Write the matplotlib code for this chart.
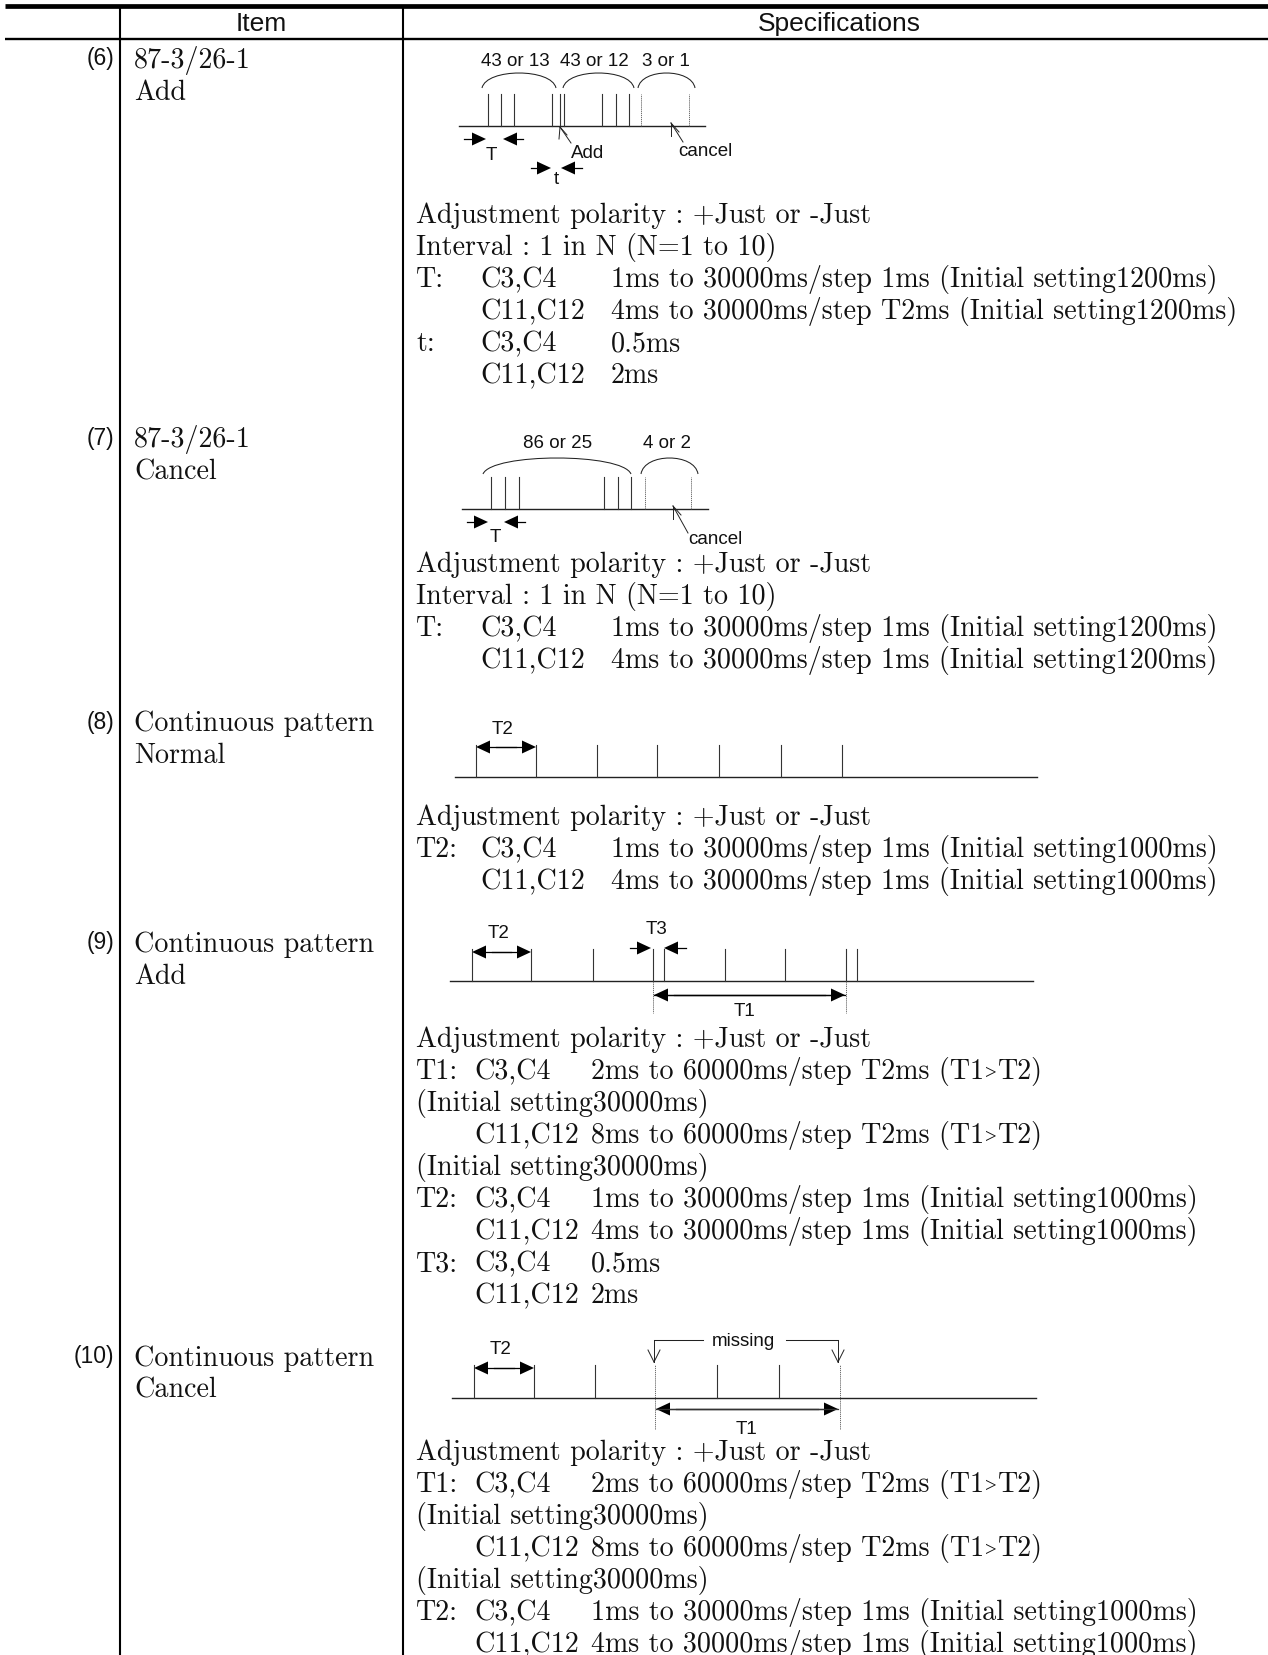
import matplotlib.pyplot as plt
from matplotlib.patches import PathPatch, Polygon
from matplotlib.path import Path

# table text
header_items = ['Item', 'Specifications']
row_numbers = ['(6)', '(7)', '(8)', '(9)', '(10)']
row_names = [['87-3/26-1', 'Add'],
             ['87-3/26-1', 'Cancel'],
             ['Continuous pattern', 'Normal'],
             ['Continuous pattern', 'Add'],
             ['Continuous pattern', 'Cancel']]
row_baselines = [68, 447, 731, 952, 1366]

ADJ = 'Adjustment polarity : +Just or -Just'
INI = '(Initial setting30000ms)'
spec6 = [[ADJ],
         ['Interval : 1 in N (N=1 to 10)'],
         ['T:', 'C3,C4', '1ms to 30000ms/step 1ms (Initial setting1200ms)'],
         ['', 'C11,C12', '4ms to 30000ms/step T2ms (Initial setting1200ms)'],
         ['t:', 'C3,C4', '0.5ms'],
         ['', 'C11,C12', '2ms']]
spec7 = [[ADJ],
         ['Interval : 1 in N (N=1 to 10)'],
         ['T:', 'C3,C4', '1ms to 30000ms/step 1ms (Initial setting1200ms)'],
         ['', 'C11,C12', '4ms to 30000ms/step 1ms (Initial setting1200ms)']]
spec8 = [[ADJ],
         ['T2:', 'C3,C4', '1ms to 30000ms/step 1ms (Initial setting1000ms)'],
         ['', 'C11,C12', '4ms to 30000ms/step 1ms (Initial setting1000ms)']]
spec9 = [[ADJ],
         ['T1:', 'C3,C4', '2ms to 60000ms/step T2ms (T1>T2)'],
         [INI],
         ['', 'C11,C12', '8ms to 60000ms/step T2ms (T1>T2)'],
         [INI],
         ['T2:', 'C3,C4', '1ms to 30000ms/step 1ms (Initial setting1000ms)'],
         ['', 'C11,C12', '4ms to 30000ms/step 1ms (Initial setting1000ms)'],
         ['T3:', 'C3,C4', '0.5ms'],
         ['', 'C11,C12', '2ms']]
spec10 = spec9[:7]
spec_blocks = [spec6, spec7, spec8, spec9, spec10]
spec_starts = [223, 572, 825, 1047, 1460]
spec_columns = [[416, 480, 611], [416, 480, 611], [416, 480, 611],
                [416, 474, 591], [416, 474, 591]]

# pulse positions of each timing diagram
pulses6 = [488, 501, 514, 552, 560, 564, 602, 616, 629]
dotted6 = [641, 689]
pulses7 = [491, 505, 519, 604, 618, 631]
dotted7 = [645, 691]
pulses8 = [476, 536, 597, 657, 719, 781, 842]
pulses9 = [472, 531, 593, 653, 664, 725, 785, 846, 857]
pulses10 = [474, 534, 595, 717, 779]
dotted10 = [655, 840]

arcs6 = [(482, 556), (563, 634), (638, 695)]
arc_labels6 = ['43 or 13', '43 or 12', '3 or 1']
arcs7 = [(483, 631), (641, 698)]
arc_labels7 = ['86 or 25', '4 or 2']

SERIF = 'cmr10'
SANS = 'Liberation Sans'
SERIF_SIZE = 20.2
LABEL_SIZE = 13.5
LINE_PITCH = 32.0
INK = '#111111'

fig = plt.figure(figsize=(12.68, 16.55), dpi=100)
ax = fig.add_axes([0, 0, 1, 1])
ax.set_xlim(0, 1268)
ax.set_ylim(1655, 0)
ax.axis('off')
renderer = fig.canvas.get_renderer()


def sans(x, y, s, size=LABEL_SIZE, ha='center'):
    ax.text(x, y, s, family=SANS, fontsize=size, ha=ha, va='center', color=INK)


def serif(x, y, s):
    # cmr10 has no ">" glyph, so that sign comes from another font
    if '>' not in s:
        ax.text(x, y, s, family=SERIF, fontsize=SERIF_SIZE, va='baseline', color=INK)
        return
    left, right = s.split('>')
    t = ax.text(x, y, left, family=SERIF, fontsize=SERIF_SIZE, va='baseline', color=INK)
    x = t.get_window_extent(renderer).x1
    t = ax.text(x + 1, y, '>', family='Liberation Serif', fontsize=15, va='baseline', color=INK)
    x = t.get_window_extent(renderer).x1
    ax.text(x + 1, y, right, family=SERIF, fontsize=SERIF_SIZE, va='baseline', color=INK)


def pulses(xs, base, top, dotted=False):
    for x in xs:
        if dotted:
            ax.plot([x, x], [base, top], color='#555555', lw=0.6, ls=(0, (1.5, 1)))
        else:
            ax.plot([x, x], [base, top], color='#333333', lw=0.8)


def baseline(x0, x1, y):
    ax.plot([x0, x1], [y, y], color='#222222', lw=1.0)


def solid_arrow(tail, tip, y, head=14, half=6.5):
    # stem with filled triangular head
    d = 1 if tip > tail else -1
    ax.plot([tail, tip - d * head], [y, y], color='black', lw=0.9)
    ax.add_patch(Polygon([(tip, y), (tip - d * head, y - half), (tip - d * head, y + half)],
                         closed=True, color='black', lw=0))


def double_arrow(x0, x1, y):
    solid_arrow(x1 - 20, x0, y)
    solid_arrow(x0 + 20, x1, y)


def open_arrow(tail, tip, barbs):
    ax.plot([tail[0], tip[0]], [tail[1], tip[1]], color='#222222', lw=0.7)
    for b in barbs:
        ax.plot([b[0], tip[0]], [b[1], tip[1]], color='#222222', lw=0.7)


def arc(x0, x1, foot, top):
    w = x1 - x0
    c = foot - (foot - top) / 0.75
    verts = [(x0, foot), (x0 + 0.06 * w, c), (x1 - 0.06 * w, c), (x1, foot)]
    codes = [Path.MOVETO, Path.CURVE4, Path.CURVE4, Path.CURVE4]
    ax.add_patch(PathPatch(Path(verts, codes), fill=False, color='#222222', lw=0.75))


# table frame
ax.plot([5, 1268], [5.6, 5.6], color='black', lw=3.4, solid_capstyle='butt')
ax.plot([5, 1268], [39, 39], color='black', lw=1.7, solid_capstyle='butt')
for x in [120, 403]:
    ax.plot([x, x], [5, 1655], color='black', lw=1.5, solid_capstyle='butt')

sans(261, 24, header_items[0], size=19)
sans(839, 24, header_items[1], size=19)

# left columns
for num, names, y in zip(row_numbers, row_names, row_baselines):
    sans(114, y - 9, num, size=16.5, ha='right')
    serif(134, y, names[0])
    serif(134, y + LINE_PITCH, names[1])

# specification text
for block, start, cols in zip(spec_blocks, spec_starts, spec_columns):
    for i, row in enumerate(block):
        for x, piece in zip(cols, row):
            serif(x, start + i * LINE_PITCH, piece)

# diagram (6)
baseline(459, 705, 126)
pulses(pulses6, 126, 94)
pulses(dotted6, 126, 94, dotted=True)
for (a, b), lab in zip(arcs6, arc_labels6):
    arc(a, b, 88, 73)
for x, lab in zip([515, 594, 666], arc_labels6):
    sans(x, 61, lab)
solid_arrow(464, 486, 139)
solid_arrow(523, 503, 139)
sans(491, 155, 'T')
solid_arrow(531, 551, 168)
solid_arrow(582, 561, 168)
sans(556, 180, 't')
open_arrow((571, 143), (560, 127), [(559, 139), (567, 135)])
sans(588, 153, 'Add')
open_arrow((683, 142), (671, 123), [(671, 136), (679, 132)])
sans(705, 151, 'cancel')

# diagram (7)
baseline(462, 708, 509)
pulses(pulses7, 509, 477)
pulses(dotted7, 509, 477, dotted=True)
for (a, b) in arcs7:
    arc(a, b, 474, 458)
sans(558, 443, arc_labels7[0])
sans(667, 443, arc_labels7[1])
solid_arrow(467, 488, 522)
solid_arrow(525, 504, 522)
sans(495, 537, 'T')
open_arrow((688, 533), (673, 506), [(673, 519), (681, 515)])
sans(715, 540, 'cancel')

# diagram (8)
baseline(455, 1037, 777)
pulses(pulses8, 777, 745)
double_arrow(476, 536, 747)
sans(503, 729, 'T2')

# diagram (9)
baseline(450, 1033, 981)
pulses(pulses9, 981, 949)
pulses([653, 846], 981, 1013, dotted=True)
double_arrow(472, 531, 952)
sans(499, 933, 'T2')
solid_arrow(630, 651, 948)
solid_arrow(686, 664, 948)
sans(657, 929, 'T3')
double_arrow(654, 845, 995)
ax.plot([654, 845], [995, 995], color='black', lw=0.9)
sans(745, 1011, 'T1')

# diagram (10)
baseline(452, 1036, 1398)
pulses(pulses10, 1398, 1365)
pulses(dotted10, 1429, 1365, dotted=True)
double_arrow(474, 534, 1368)
sans(501, 1350, 'T2')
double_arrow(656, 838, 1409)
ax.plot([656, 838], [1409, 1409], color='#333333', lw=0.9)
sans(746, 1430, 'T1')
sans(743, 1341, 'missing')
ax.plot([703, 654], [1340, 1340], color='#222222', lw=0.75)
ax.plot([786, 838], [1340, 1340], color='#222222', lw=0.75)
open_arrow((654, 1340), (654, 1362), [(648, 1350), (660, 1350)])
open_arrow((838, 1340), (838, 1362), [(832, 1350), (844, 1350)])

plt.savefig('out.png', dpi=100)
